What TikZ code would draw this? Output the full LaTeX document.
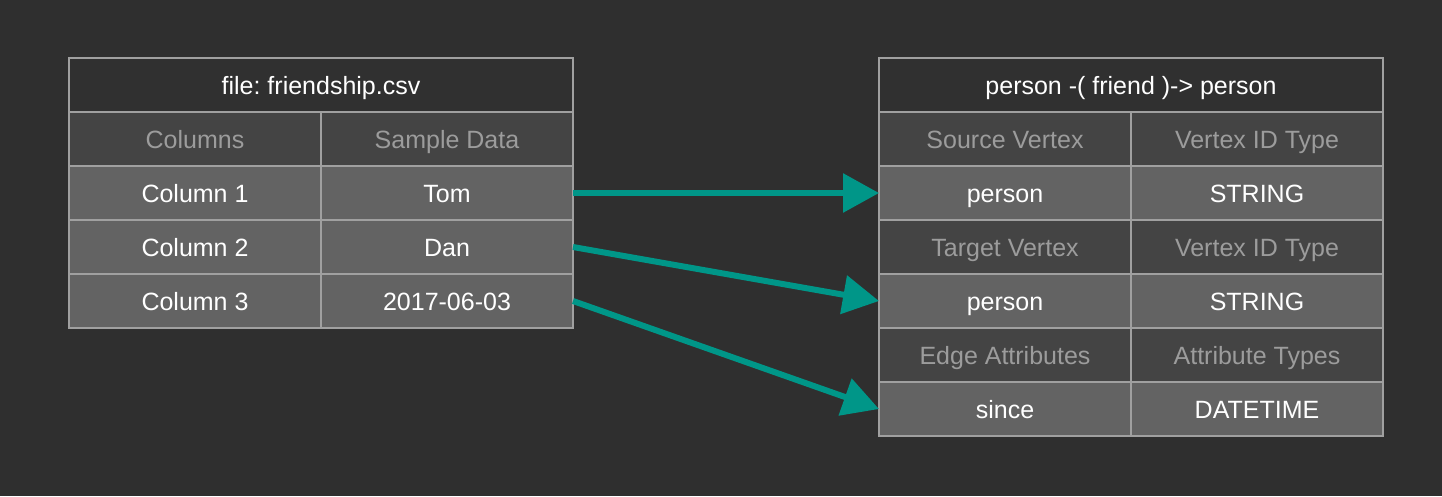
\documentclass[tikz,border=0pt]{standalone}
\usepackage{fontspec}
\setmainfont{Liberation Sans}
\frenchspacing
\usetikzlibrary{positioning,arrows.meta}
\definecolor{bgcol}{HTML}{2F2F2F}
\definecolor{titlebg}{HTML}{303030}
\definecolor{headbg}{HTML}{444444}
\definecolor{databg}{HTML}{636363}
\definecolor{gridcol}{HTML}{A0A0A0}
\definecolor{headtxt}{HTML}{9C9C9C}
\definecolor{teal}{HTML}{009688}
\tikzset{
  cell/.style={draw=gridcol,line width=2pt,minimum width=252pt,minimum height=54pt,
    inner sep=0pt,outer sep=0pt,text height=20pt,text depth=2pt,
    font=\fontsize{25}{28}\selectfont},
  titlecell/.style={cell,minimum width=504pt,fill=titlebg,text=white},
  headcell/.style={cell,fill=headbg,text=headtxt},
  datacell/.style={cell,fill=databg,text=white},
  maparrow/.style={draw=teal,line width=6pt,-{Triangle[length=36pt,width=38pt]}}
}
\begin{document}
\begin{tikzpicture}[x=1pt,y=-1pt]
  \fill[bgcol] (0,0) rectangle (1442,496);
  \useasboundingbox (0,0) rectangle (1442,496);
  % csv file
  \node [titlecell] (csv) at (321,85) {file: friendship.csv};
  \node [headcell] (colhd) at (195,139) {Columns};
  \node [headcell,right=0pt of colhd] (smphd) {Sample Data};
  \node [datacell,below=0pt of colhd] (col1) {Column 1};
  \node [datacell,right=0pt of col1] (tom) {Tom};
  \node [datacell,below=0pt of col1] (col2) {Column 2};
  \node [datacell,right=0pt of col2] (dan) {Dan};
  \node [datacell,below=0pt of col2] (col3) {Column 3};
  \node [datacell,right=0pt of col3] (date) {2017-06-03};
  % edge type
  \node [titlecell] (edge) at (1131,85) {person -( friend )-> person};
  \node [headcell] (srchd) at (1005,139) {Source Vertex};
  \node [headcell,right=0pt of srchd] (srcid) {Vertex ID Type};
  \node [datacell,below=0pt of srchd] (src) {person};
  \node [datacell,right=0pt of src] (srctype) {STRING};
  \node [headcell,below=0pt of src] (tgthd) {Target Vertex};
  \node [headcell,right=0pt of tgthd] (tgtid) {Vertex ID Type};
  \node [datacell,below=0pt of tgthd] (tgt) {person};
  \node [datacell,right=0pt of tgt] (tgttype) {STRING};
  \node [headcell,below=0pt of tgt] (atthd) {Edge Attributes};
  \node [headcell,right=0pt of atthd] (attty) {Attribute Types};
  \node [datacell,below=0pt of atthd] (since) {since};
  \node [datacell,right=0pt of since] (sincetype) {DATETIME};
  % mapping
  \draw [maparrow] (tom.east) to (src.west);
  \draw [maparrow] (dan.east) to (tgt.west);
  \draw [maparrow] (date.east) to (since.west);
\end{tikzpicture}
\end{document}
